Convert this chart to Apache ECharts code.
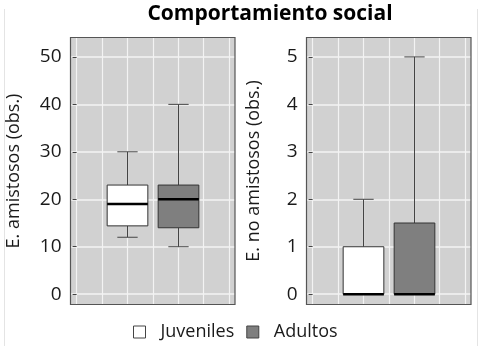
<!DOCTYPE html>
<html>
<head>
<meta charset="utf-8">
<script src="https://cdn.jsdelivr.net/npm/echarts@6/dist/echarts.min.js"></script>
<style>
html, body { margin: 0; padding: 0; background: #fff; }
#chart { width: 484px; height: 351px; }
</style>
</head>
<body>
<div id="chart"></div>
<script>
// grupos y posiciones en el eje x (unidades de rejilla)
const groups = ["Juveniles", "Adultos"]
const groupX = [2, 4]
// [min, Q1, mediana, Q3, max]
const amistososJuv = [12, 14.4, 19, 23, 30]
const amistososAdu = [10, 14, 20, 23, 40]
const noAmistososJuv = [0, 0, 0, 1, 2]
const noAmistososAdu = [0, 0, 0, 1.5, 5]
const ticksLeft = [0, 10, 20, 30, 40, 50]
const ticksRight = [0, 1, 2, 3, 4, 5]
const gridLinesX = [0, 1, 2, 3, 4, 5, 6]

const FONT = "Open Sans"
const fills = { Juveniles: "#ffffff", Adultos: "#7f7f7f" }

// paneles (rejillas)
const panels = [
  { left: 70.5, top: 37.5, width: 164.5, height: 267 },
  { left: 306.5, top: 37.5, width: 164.5, height: 267 },
]

const renderBox = (params, api) => {
  const x = api.value(0)
  const p = [1, 2, 3, 4, 5].map((i) => api.coord([x, api.value(i)]))
  const cx = Math.round(p[0][0]) + 0.5
  const half = api.size([0.8, 0])[0]
  const cap = half / 2
  const whisker = { stroke: "#444", lineWidth: 1 }
  return {
    type: "group",
    children: [
      { type: "line", shape: { x1: cx, y1: p[4][1], x2: cx, y2: p[3][1] }, style: whisker },
      { type: "line", shape: { x1: cx, y1: p[0][1], x2: cx, y2: p[1][1] }, style: whisker },
      { type: "line", shape: { x1: cx - cap, y1: p[4][1], x2: cx + cap, y2: p[4][1] }, style: whisker },
      { type: "line", shape: { x1: cx - cap, y1: p[0][1], x2: cx + cap, y2: p[0][1] }, style: whisker },
      {
        type: "rect",
        shape: { x: cx - half, y: p[3][1], width: half * 2, height: p[1][1] - p[3][1] },
        style: { fill: api.visual("color"), stroke: "#333", lineWidth: 1 },
      },
      {
        type: "line",
        shape: { x1: cx - half, y1: p[2][1], x2: cx + half, y2: p[2][1] },
        style: { stroke: "#000", lineWidth: 2.6 },
      },
    ],
  }
}

const makeX = (gridIndex) => ({
  type: "value",
  gridIndex,
  min: -0.24,
  max: 6.23,
  axisLine: { show: false },
  axisTick: { show: false, customValues: gridLinesX },
  axisLabel: { show: false, customValues: gridLinesX },
  splitLine: { show: true, lineStyle: { color: "#f3f3f3", width: 1.2 } },
})

const makeY = (gridIndex, min, max, ticks, name, nameGap) => ({
  type: "value",
  gridIndex,
  min,
  max,
  name,
  nameLocation: "middle",
  nameGap,
  nameTextStyle: { fontFamily: FONT, fontSize: 18, color: "#1a1a1a" },
  axisLine: { show: false },
  axisTick: { show: true, length: 4, customValues: ticks, lineStyle: { color: "#444" } },
  axisLabel: { customValues: ticks, margin: 9, fontFamily: FONT, fontSize: 19, color: "#1a1a1a" },
  splitLine: { show: true, lineStyle: { color: "#f3f3f3", width: 1.6 } },
})

const makeSeries = (name, data, idx) => ({
  type: "custom",
  name,
  xAxisIndex: idx,
  yAxisIndex: idx,
  itemStyle: { color: fills[name] },
  renderItem: renderBox,
  encode: { x: 0, y: [1, 2, 3, 4, 5] },
  data: [[groupX[groups.indexOf(name)], ...data]],
  z: 5,
})

const chart = echarts.init(document.getElementById("chart"))
chart.setOption({
  animation: false,
  title: {
    text: "Comportamiento social",
    left: 270,
    top: 4,
    padding: 0,
    textAlign: "center",
    textStyle: { fontFamily: FONT, fontSize: 21, fontWeight: "bold", color: "#000" },
  },
  legend: {
    data: [
      { name: "Juveniles", itemStyle: { color: "#fff", borderColor: "#444", borderWidth: 1 } },
      { name: "Adultos", itemStyle: { color: "#7f7f7f", borderColor: "#444", borderWidth: 1 } },
    ],
    icon: "rect",
    itemWidth: 12,
    itemHeight: 12,
    itemGap: 12,
    left: 133,
    top: 323,
    padding: 0,
    textStyle: { fontFamily: FONT, fontSize: 18, color: "#1a1a1a", padding: [0, 0, 0, 10] },
  },
  grid: panels.map((g) => ({ ...g, show: true, backgroundColor: "#d1d1d1", borderWidth: 0 })),
  xAxis: [makeX(0), makeX(1)],
  yAxis: [
    makeY(0, -2.17, 54.09, ticksLeft, "E. amistosos (obs.)", 48),
    makeY(1, -0.217, 5.409, ticksRight, "E. no amistosos (obs.)", 44),
  ],
  graphic: [
    { type: "line", shape: { x1: 4.5, y1: 9, x2: 4.5, y2: 346 }, style: { stroke: "#e4e4e4", lineWidth: 1 } },
    { type: "line", shape: { x1: 477.5, y1: 9, x2: 477.5, y2: 346 }, style: { stroke: "#e4e4e4", lineWidth: 1 } },
    ...panels.map((g) => ({
      type: "rect",
      z: 100,
      shape: { x: g.left, y: g.top, width: g.width, height: g.height },
      style: { fill: "none", stroke: "#555", lineWidth: 1.2 },
    })),
  ],
  series: [
    makeSeries("Juveniles", amistososJuv, 0),
    makeSeries("Adultos", amistososAdu, 0),
    makeSeries("Juveniles", noAmistososJuv, 1),
    makeSeries("Adultos", noAmistososAdu, 1),
  ],
})
</script>
</body>
</html>
